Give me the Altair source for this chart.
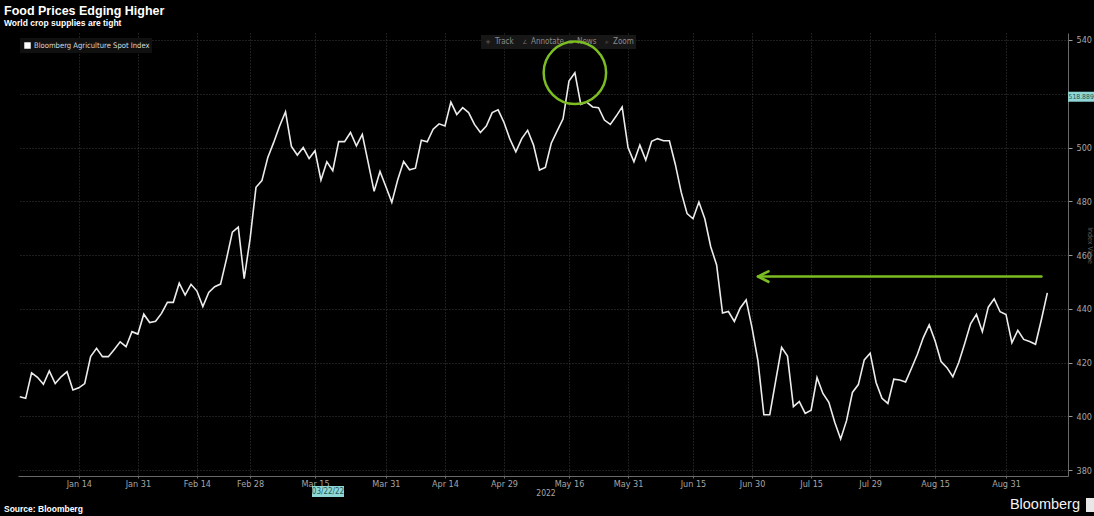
import altair as alt
import pandas as pd

# Trading sessions of the Bloomberg Agriculture Spot Index, Dec 31 2021 - Sep 12 2022
market_holidays = ["2022-01-17", "2022-02-21", "2022-04-15", "2022-05-30",
                   "2022-06-20", "2022-07-04", "2022-09-05"]
sessions = [d.strftime("%Y-%m-%d") for d in pd.bdate_range("2021-12-31", "2022-09-12")
            if d.strftime("%Y-%m-%d") not in market_holidays]

# Daily closing level of the index
index_values = [
    407.3, 406.7, 416.2, 414.5, 411.9, 416.9, 412.2, 414.7, 416.6, 409.8, 410.6,
    412.2, 422.2, 425.3, 422.2, 422.2, 424.9, 427.7, 425.9, 431.5, 430.6,
    438.0, 434.9, 435.4, 438.3, 442.4, 442.4, 449.5, 445.1, 449.1, 446.6,
    440.8, 446.1, 448.2, 449.2, 458.5, 468.5, 470.4, 451.2, 466.0, 485.2,
    487.7, 496.3, 501.9, 508.0, 513.3, 500.4, 497.2, 500.0, 495.9, 498.8,
    487.9, 494.7, 491.4, 502.2, 502.2, 505.6, 500.6, 504.9, 494.4, 483.7,
    491.1, 485.4, 479.6, 488.0, 494.8, 491.7, 492.3, 502.7, 502.1, 506.8,
    508.8, 508.0, 516.9, 512.3, 514.8, 513.0, 508.6, 505.6, 508.0, 513.0,
    514.0, 509.3, 503.1, 498.4, 503.3, 506.4, 500.9, 491.6, 492.6, 501.6,
    506.2, 510.7, 524.7, 527.8, 516.0, 516.9, 515.1, 514.8, 510.2, 508.6,
    511.7, 515.1, 500.0, 494.7, 500.9, 495.3, 502.3, 503.3, 502.5, 502.5,
    493.8, 483.4, 475.4, 473.5, 479.7, 473.5, 463.1, 456.3, 438.4, 439.0,
    435.3, 440.3, 443.3, 432.9, 420.6, 400.6, 400.6, 413.2, 425.7, 422.4,
    403.6, 405.5, 401.1, 402.3, 414.4, 408.5, 405.2, 397.8, 391.6, 398.4,
    408.9, 411.8, 421.0, 423.5, 412.6, 406.7, 404.8, 413.8, 413.5, 412.8,
    417.9, 423.1, 429.3, 434.0, 428.0, 420.4, 418.1, 414.7, 420.0, 427.0,
    434.4, 437.9, 431.5, 440.6, 443.7, 438.9, 437.9, 427.4, 432.0, 428.6,
    427.8, 426.8, 436.0, 445.9,
]

tick_dates = ["2022-01-14", "2022-01-31", "2022-02-14", "2022-02-28", "2022-03-15",
              "2022-03-31", "2022-04-14", "2022-04-29", "2022-05-16", "2022-05-31",
              "2022-06-15", "2022-06-30", "2022-07-15", "2022-07-29", "2022-08-15",
              "2022-08-31"]
tick_labels = ["Jan 14", "Jan 31", "Feb 14", "Feb 28", "Mar 15", "Mar 31", "Apr 14",
               "Apr 29", "May 16", "May 31", "Jun 15", "Jun 30", "Jul 15", "Jul 29",
               "Aug 15", "Aug 31"]
y_ticks = [380, 400, 420, 440, 460, 480, 500, 520, 540]

# Arrow: from the latest sessions back to the start of July, at the current level
arrow_from, arrow_to, arrow_level = "2022-09-09", "2022-07-01", 452.0
# Crosshair read-out shown on the value axis (hides the 520 label beneath it)
cursor_value = 518.889

assert len(sessions) == len(index_values)

df = pd.DataFrame({"date": sessions, "value": index_values})
df["session"] = range(len(df))  # trading-day position on the axis
tick_pos = [sessions.index(d) for d in tick_dates]
peak = df.loc[[df["value"].idxmax()]]
arrow_df = pd.DataFrame({"x": [sessions.index(arrow_to)], "x2": [sessions.index(arrow_from)],
                         "y": [arrow_level]})

NARROW = "Liberation Sans Narrow, DejaVu Sans Condensed, Arial Narrow, sans-serif"
BOLD = "Liberation Sans, Arial, sans-serif"
AXIS_GREY = "#a6a6a6"
GREEN = "#7cbd22"
CYAN = "#8fd6d6"

# plot origin sits at (18, 33) in the page
OX, OY = 18, 33
PLOT_W, PLOT_H = 1050, 443

label_expr = ("[" + ",".join(f"'{t}'" for t in tick_labels) + "][indexof(["
              + ",".join(str(p) for p in tick_pos) + "], datum.value)]")

x_scale = alt.Scale(domain=[-0.3, 177.5], nice=False, zero=False)
y_scale = alt.Scale(domain=[377.8, 542.6], nice=False, zero=False)

x_axis = alt.Axis(values=tick_pos, labelExpr=label_expr, title=None, orient="bottom",
                  grid=True, gridColor="#3c3c3c", gridDash=[1, 2], gridWidth=1,
                  domainColor="#6a6a6a", tickColor="#6a6a6a", tickSize=2,
                  labelColor=AXIS_GREY, labelFont=NARROW, labelFontSize=9,
                  labelPadding=1)
y_axis = alt.Axis(values=y_ticks, title="Index Value", orient="right",
                  labelExpr="datum.value == 520 ? '' : datum.label",
                  grid=True, gridColor="#3c3c3c", gridDash=[1, 2], gridWidth=1,
                  domainColor="#6a6a6a", tickColor="#9a9a9a", tickSize=4,
                  labelColor=AXIS_GREY, labelFont=NARROW, labelFontSize=9,
                  labelPadding=4, titleColor="#5a5a5a", titleFont=NARROW,
                  titleFontSize=7, titleFontWeight="normal", titleAngle=90,
                  titleX=21.5, titleY=212, titleAlign="center",
                  titleBaseline="middle")

line = alt.Chart(df).mark_line(color="#ececec", strokeWidth=1.6).encode(
    x=alt.X("session:Q", scale=x_scale, axis=x_axis),
    y=alt.Y("value:Q", scale=y_scale, axis=y_axis),
)

ring = alt.Chart(peak).mark_point(shape="circle", size=3900, filled=False,
                                  color=GREEN, strokeWidth=2.5, opacity=1).encode(
    x="session:Q", y="value:Q")

arrow_shaft = alt.Chart(arrow_df).mark_rule(color=GREEN, strokeWidth=2.6,
                                            strokeCap="round").encode(
    x="x:Q", x2="x2", y="y:Q")
arrow_head = alt.Chart(arrow_df).mark_point(shape="M 2 -1 L 0 0 L 2 1", size=110,
                                            filled=False, color=GREEN, strokeWidth=2.6,
                                            opacity=1, strokeCap="round",
                                            strokeJoin="round").encode(
    x="x:Q", y="y:Q")

one = pd.DataFrame({"k": [0]})


def label(text, x, y, size=9, color="#ffffff", font=NARROW, weight="normal",
          align="left", baseline="middle"):
    return alt.Chart(one).mark_text(text=text, fontSize=size, color=color, font=font,
                                    fontWeight=weight, align=align,
                                    baseline=baseline).encode(
        x=alt.value(x), y=alt.value(y))


def box(x, x2, y, y2, color):
    return alt.Chart(one).mark_rect(color=color).encode(
        x=alt.value(x), x2=alt.value(x2), y=alt.value(y), y2=alt.value(y2))


header = [
    label("Food Prices Edging Higher", 4 - OX, 15 - OY, size=12.5, font=BOLD,
          weight="bold", baseline="alphabetic"),
    label("World crop supplies are tight", 4 - OX, 26 - OY, size=8.5, font=BOLD,
          weight="bold", baseline="alphabetic"),
    box(20 - OX, 152 - OX, 38 - OY, 53 - OY, "#101010"),
    alt.Chart(one).mark_point(shape="square", size=42, filled=True, color="#ffffff",
                              opacity=1).encode(x=alt.value(27.5 - OX),
                                                y=alt.value(45.5 - OY)),
    label("Bloomberg Agriculture Spot Index", 34 - OX, 46 - OY, size=7.6,
          color="#d8d8d8"),
    box(481 - OX, 636 - OX, 35 - OY, 49 - OY, "#171717"),
    label("✛", 488 - OX, 42 - OY, size=6, color="#707070", align="center"),
    label("Track", 495 - OX, 42 - OY, size=8, color="#8c8c8c"),
    label("∠", 525 - OX, 42 - OY, size=6, color="#707070", align="center"),
    label("Annotate", 531 - OX, 42 - OY, size=8, color="#8c8c8c"),
    label("≡", 571 - OX, 42 - OY, size=7, color="#707070", align="center"),
    label("News", 577 - OX, 42 - OY, size=8, color="#8c8c8c"),
    label("⌕", 607 - OX, 42 - OY, size=7, color="#707070", align="center"),
    label("Zoom", 613 - OX, 42 - OY, size=8, color="#8c8c8c"),
]

footer = [
    label("2022", 546 - OX, 493 - OY, size=8.5, color=AXIS_GREY, align="center"),
    box(312 - OX, 344 - OX, 486 - OY, 497 - OY, CYAN),
    label("03/22/22", 328 - OX, 491.5 - OY, size=8, color="#1d5a5a", align="center"),
    label("Source: Bloomberg", 4 - OX, 509 - OY, size=8.5, font=BOLD, weight="bold"),
    label("Bloomberg", 1080 - OX, 505 - OY, size=14.5, color="#f2f2f2",
          font="Liberation Sans, Arial, sans-serif", align="right"),
    box(1086 - OX, 1094 - OX, 498 - OY, 512 - OY, "#e8e8e8"),
]

cursor = [
    alt.Chart(one).mark_rect(color=CYAN, height=10).encode(
        x=alt.value(1068 - OX), x2=alt.value(1094 - OX), y=alt.datum(cursor_value)),
    alt.Chart(one).mark_text(text=f"{cursor_value:.3f}", fontSize=6.8, font=NARROW,
                             color="#1d5a5a", align="left", baseline="middle").encode(
        x=alt.value(1068.5 - OX), y=alt.datum(cursor_value)),
]

chart = alt.layer(
    *header, line, ring, arrow_shaft, arrow_head, *footer, *cursor
).properties(
    width=PLOT_W, height=PLOT_H,
    autosize=alt.AutoSizeParams(type="none"),
    padding={"left": OX, "top": OY, "right": 1094 - OX - PLOT_W,
             "bottom": 516 - OY - PLOT_H},
).configure(background="#000000").configure_view(strokeWidth=0)

chart.save("out.html", embed_options={"renderer": "svg", "actions": False})
